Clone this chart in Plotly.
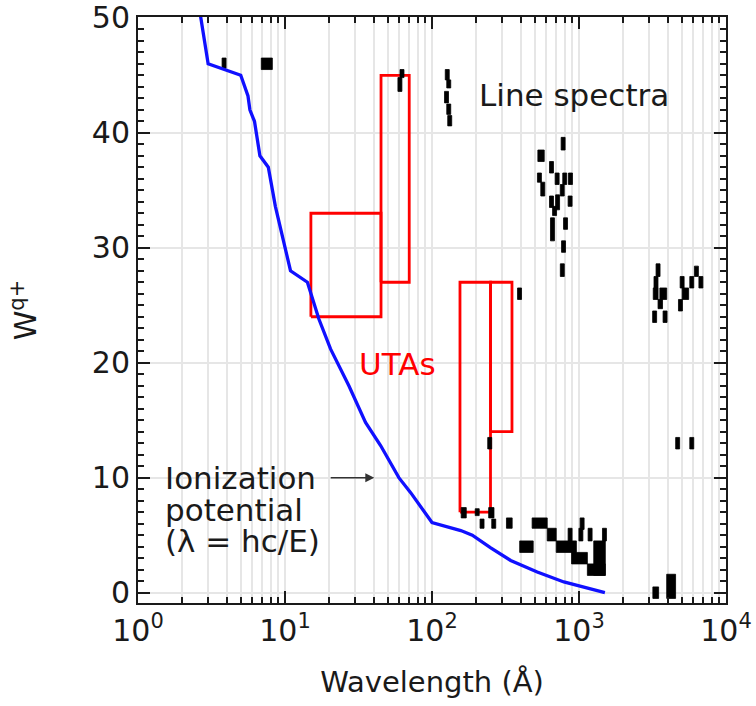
import math
import plotly.graph_objects as go

# ---------------- data ----------------
# Ionization potential curve (wavelength in Å, charge state)
ip_wl = [2.6, 3.0, 5.0, 5.25, 5.6, 5.77, 6.2, 6.75, 7.7, 8.6, 10.9, 14.2, 17.0, 20.4,
         27.2, 35.3, 44.7, 59.5, 71.6, 100, 157, 188, 251, 343, 520, 789, 1500]
ip_q = [51, 46, 45, 44.2, 43.2, 42, 41, 38, 37, 33.6, 28, 27, 23.8, 21.2,
        18, 14.8, 12.8, 10, 8.7, 6.1, 5.4, 5.0, 3.9, 2.8, 1.8, 0.93, 0]

# UTA boxes
uta_wl0 = [15, 45, 155, 250]
uta_wl1 = [45, 70, 250, 350]
uta_q0 = [24, 27, 7, 14]
uta_q1 = [33, 45, 27, 27]

# Single spectral lines: centre wavelength, lower / upper charge
line_wl = [3.85, 62.5, 60.5, 127, 130, 125.5, 130, 132, 780, 650, 538, 567, 710, 800, 875,
           769, 650, 715, 870, 682, 660, 810, 785, 770, 394, 3450, 3340, 3270, 3850, 5030,
           4900, 5850, 6290, 6750, 4690, 5850, 247, 203, 219, 263, 1050, 870, 1030, 1190, 1490]
line_q0 = [45.6, 44.8, 43.6, 44.6, 43.9, 42.6, 41.6, 40.6, 38.5, 36.5, 35.7, 34.5, 35.5, 35.5, 35.5,
           34.5, 33.5, 33.3, 33.6, 32.8, 30.6, 31.6, 29.6, 27.5, 25.5, 27.5, 26.5, 23.5, 23.5, 26.5,
           24.5, 26.5, 27.5, 26.5, 12.5, 12.5, 12.5, 6.7, 5.6, 5.6, 5.5, 4.5, 4.5, 4.5, 4.5]
line_q1 = [46.5, 45.5, 44.8, 45.5, 44.6, 43.6, 42.5, 41.5, 39.6, 37.5, 36.5, 35.7, 36.5, 36.5, 36.5,
           35.5, 34.5, 34.6, 34.5, 33.6, 32.6, 32.6, 30.6, 28.6, 26.5, 28.6, 27.5, 24.5, 24.5, 27.5,
           25.5, 27.5, 28.4, 27.5, 13.5, 13.5, 13.5, 7.3, 6.4, 6.4, 6.5, 5.6, 5.6, 5.6, 5.6]

# Blended line groups (blocks): wavelength span and charge span
blk_wl0 = [6.9, 525, 3200, 3550, 3450, 5030, 3180, 3950, 158, 243, 321, 395, 480, 608, 700, 890, 1260, 1140]
blk_wl1 = [8.2, 580, 3450, 3950, 3700, 5570, 3480, 4540, 171, 264, 351, 488, 608, 700, 960, 1140, 1510, 1510]
blk_q0 = [45.5, 37.5, 25.5, 25.5, 24.7, 25.5, -0.5, -0.5, 6.5, 6.5, 5.6, 3.5, 5.6, 4.5, 3.5, 2.5, 1.5, 1.5]
blk_q1 = [46.5, 38.5, 26.5, 26.5, 25.5, 26.5, 0.5, 1.6, 7.4, 7.4, 6.5, 4.5, 6.5, 5.6, 4.5, 3.5, 4.5, 2.5]

x_tickvals = [1, 10, 100, 1000, 10000]
x_ticktext = ['10<sup>0</sup>', '10<sup>1</sup>', '10<sup>2</sup>', '10<sup>3</sup>', '10<sup>4</sup>']
y_tickvals = [0, 10, 20, 30, 40, 50]

# ---------------- figure ----------------
FONT = 'DejaVu Sans'
TXT = '#1a1a1a'
fig = go.Figure()

# UTA rectangles
ux, uy = [], []
for a, b, c, d in zip(uta_wl0, uta_wl1, uta_q0, uta_q1):
    ux += [a, b, b, a, a, None]
    uy += [c, c, d, d, c, None]
fig.add_trace(go.Scatter(x=ux, y=uy, mode='lines', line=dict(color='#ff0000', width=2.8),
                         hoverinfo='skip', showlegend=False))

# line spectra polygons
half = 10 ** (0.0135)
sx, sy = [], []
for w, a, b in zip(line_wl, line_q0, line_q1):
    l, r = w / half, w * half
    sx += [l, r, r, l, l, None]
    sy += [a, a, b, b, a, None]
for w0, w1, a, b in zip(blk_wl0, blk_wl1, blk_q0, blk_q1):
    sx += [w0, w1, w1, w0, w0, None]
    sy += [a, a, b, b, a, None]
fig.add_trace(go.Scatter(x=sx, y=sy, mode='lines', fill='toself', fillcolor='#000000',
                         line=dict(color='#000000', width=0.8), hoverinfo='skip', showlegend=False))

# ionization potential
fig.add_trace(go.Scatter(x=ip_wl, y=ip_q, mode='lines', line=dict(color='#1010ff', width=3.3),
                         showlegend=False))

minor_x = [m * 10 ** d for d in range(4) for m in range(2, 10)]
grid = '#e6e6e6'
fig.update_xaxes(type='log', range=[0, 4], tickvals=x_tickvals, ticktext=x_ticktext,
                 ticks='inside', ticklen=12, tickwidth=1.5, tickcolor=TXT, automargin=False,
                 showline=True, linecolor=TXT, linewidth=2, mirror='ticks',
                 showgrid=True, gridcolor=grid, gridwidth=1.5, zeroline=False,
                 tickfont=dict(family=FONT, size=30, color=TXT),
                 minor=dict(tickvals=minor_x, ticks='inside', ticklen=6, tickwidth=1.5,
                            tickcolor=TXT, showgrid=True, gridcolor=grid, gridwidth=1.5),
                 title=dict(text='Wavelength (Å)', font=dict(family=FONT, size=29, color=TXT),
                            standoff=25))
fig.update_yaxes(range=[-0.9, 50.07], tickvals=y_tickvals, automargin=False,
                 ticks='inside', ticklen=12, tickwidth=1.5, tickcolor=TXT,
                 showline=True, linecolor=TXT, linewidth=2, mirror='ticks',
                 showgrid=True, gridcolor=grid, gridwidth=1.5, zeroline=False,
                 tickfont=dict(family=FONT, size=30, color=TXT),
                 minor=dict(dtick=1, ticks='inside', ticklen=6, tickwidth=1.5,
                            tickcolor=TXT, showgrid=False),
                 title=dict(text='W<sup>q+</sup>', font=dict(family=FONT, size=30, color=TXT),
                            standoff=46))

AF = 31
ann = [
    dict(x=math.log10(202), y=43.3, text='Line spectra', xanchor='left', yanchor='middle',
         font=dict(family=FONT, size=AF, color=TXT), showarrow=False),
    dict(x=math.log10(30.8), y=19.9, text='UTAs', xanchor='left', yanchor='middle',
         font=dict(family=FONT, size=AF, color='#ff0000'), showarrow=False),
    dict(x=math.log10(1.48), y=10.0, text='Ionization', xanchor='left', yanchor='middle',
         font=dict(family=FONT, size=AF, color=TXT), showarrow=False),
    dict(x=math.log10(1.48), y=7.2, text='potential', xanchor='left', yanchor='middle',
         font=dict(family=FONT, size=AF, color=TXT), showarrow=False),
    dict(x=math.log10(1.48), y=4.45, text='(λ = hc/E)', xanchor='left', yanchor='middle',
         font=dict(family=FONT, size=AF, color=TXT), showarrow=False),
    dict(x=math.log10(40.5), y=10.0, ax=math.log10(20), ay=10.0, axref='x', ayref='y',
         text='', showarrow=True, arrowhead=2, arrowsize=1.2, arrowwidth=1.5, arrowcolor='#333333'),
]
fig.update_layout(width=756, height=706, margin=dict(l=137.5, r=29.5, t=16.7, b=102.5),
                  plot_bgcolor='white', paper_bgcolor='white', annotations=ann,
                  font=dict(family=FONT, color=TXT))
fig.write_html('out.html')
